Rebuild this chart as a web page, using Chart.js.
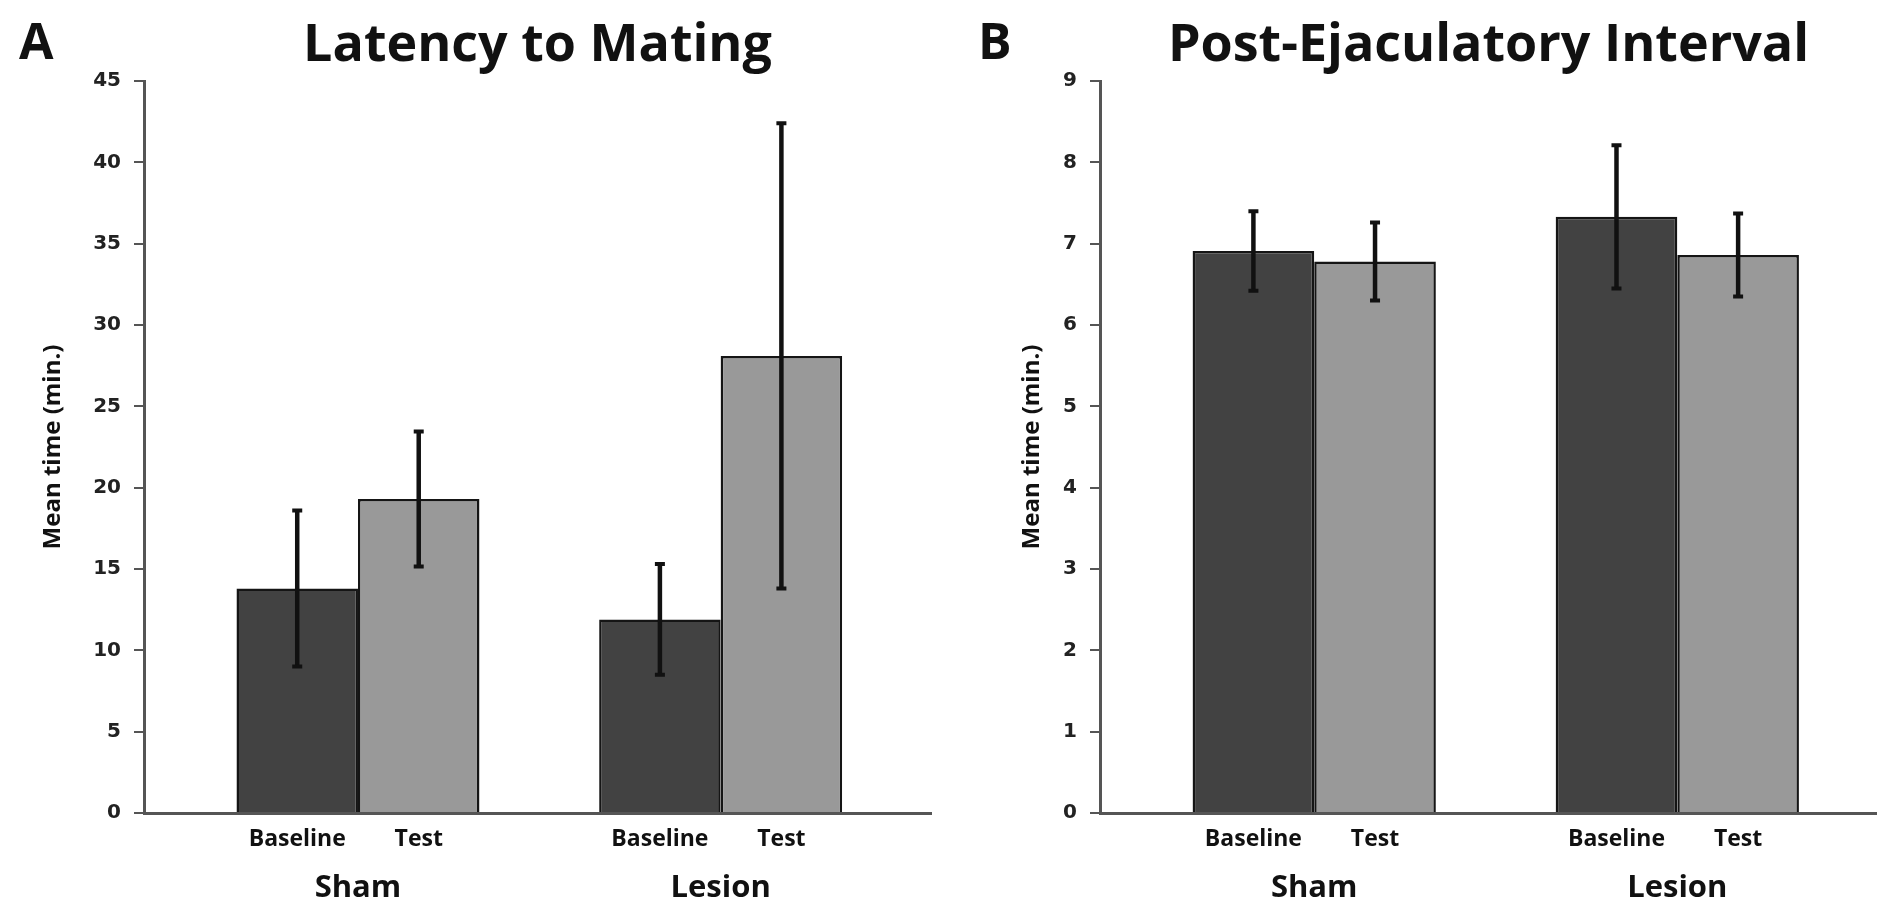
<!DOCTYPE html>
<html>
<head>
<meta charset="utf-8">
<script src="https://cdn.jsdelivr.net/npm/chart.js@4.4.1/dist/chart.umd.min.js"></script>
<style>
  html, body { margin: 0; padding: 0; background: #ffffff; }
  #wrap { position: relative; width: 1877px; height: 909px; overflow: hidden; background: #fff; }
  .panel { position: absolute; top: 0; }
  .letter { position: absolute; font-family: "Open Sans", sans-serif; font-weight: 700; font-size: 50px; line-height: 1; color: #111; }
</style>
</head>
<body>
<div id="wrap">
  <canvas id="chartA" class="panel" width="950" height="909" style="left:0px"></canvas>
  <canvas id="chartB" class="panel" width="927" height="909" style="left:950px"></canvas>
  <div class="letter" style="left:19px; top:15px;">A</div>
  <div class="letter" style="left:978px; top:15px;">B</div>
</div>
<script>
// ---------- data ----------
const GROUPS = ['Sham', 'Lesion'];
const SERIES = ['Baseline', 'Test'];

const latencyBaseline    = [13.8, 11.9];
const latencyBaselineErr = [4.8, 3.4];
const latencyTest        = [19.3, 28.1];
const latencyTestErr     = [4.15, 14.3];
const latencyYMax = 45;
const latencyYStep = 5;

const peiBaseline    = [6.91, 7.33];
const peiBaselineErr = [0.49, 0.88];
const peiTest        = [6.78, 6.86];
const peiTestErr     = [0.48, 0.51];
const peiYMax = 9;
const peiYStep = 1;

const TITLE_A = 'Latency to Mating';
const TITLE_B = 'Post-Ejaculatory Interval';
const Y_TITLE = 'Mean time (min.)';

// ---------- style ----------
const COLORS = ['#424242', '#999999'];
const CAT_PCT = 0.67;
const FONT_MAIN = '"Open Sans", sans-serif';
const FONT_TICK = '"DejaVu Sans", sans-serif';

Chart.defaults.font.family = FONT_MAIN;
Chart.defaults.color = '#111';

const errorBars = {
  id: 'errorBars',
  afterDatasetsDraw(chart) {
    const ctx = chart.ctx;
    const yScale = chart.scales.y;
    ctx.save();
    ctx.strokeStyle = '#111';
    ctx.lineCap = 'butt';
    chart.data.datasets.forEach((ds, i) => {
      const meta = chart.getDatasetMeta(i);
      meta.data.forEach((el, j) => {
        const v = ds.data[j].y;
        const e = ds.errors[j];
        const x = el.x;
        const yHi = yScale.getPixelForValue(v + e);
        const yLo = yScale.getPixelForValue(v - e);
        ctx.lineWidth = 4.5;
        ctx.beginPath();
        ctx.moveTo(x, yHi); ctx.lineTo(x, yLo);
        ctx.stroke();
        ctx.lineWidth = 4;
        ctx.beginPath();
        ctx.moveTo(x - 5, yHi); ctx.lineTo(x + 5, yHi);
        ctx.moveTo(x - 5, yLo); ctx.lineTo(x + 5, yLo);
        ctx.stroke();
      });
    });
    ctx.restore();
  }
};

function makeChart(canvasId, cfg) {
  const datasets = SERIES.map((name, s) => ({
    label: name,
    data: cfg.values[s].map((v, g) => ({ x: g + 1, y: v })),
    errors: cfg.errors[s],
    backgroundColor: COLORS[s],
    borderColor: '#151515',
    borderWidth: 2.5,
    borderSkipped: 'bottom',
    categoryPercentage: CAT_PCT,
    barPercentage: 1.0
  }));

  const subTickValues = [];
  GROUPS.forEach((g, gi) => {
    SERIES.forEach((s, si) => {
      subTickValues.push(gi + 1 + (si - (SERIES.length - 1) / 2) * CAT_PCT / SERIES.length);
    });
  });

  return new Chart(document.getElementById(canvasId), {
    type: 'bar',
    data: { datasets },
    plugins: [errorBars],
    options: {
      responsive: false,
      animation: false,
      devicePixelRatio: 1,
      layout: { padding: { left: 0, right: cfg.padRight, top: 0, bottom: 0 } },
      plugins: {
        legend: { display: false },
        tooltip: { enabled: false },
        title: {
          display: true,
          text: cfg.title,
          fullSize: false,
          color: '#111',
          font: { family: FONT_MAIN, size: 52, weight: '700', lineHeight: 1.2 },
          padding: { top: 15, bottom: 3.6 }
        }
      },
      scales: {
        x: {
          type: 'linear',
          position: 'bottom',
          weight: 1,
          min: 0.41,
          max: cfg.xMax,
          offset: false,
          grid: { display: false, drawTicks: false },
          border: { display: false },
          afterBuildTicks: (scale) => { scale.ticks = GROUPS.map((g, i) => ({ value: i + 1 })); },
          afterFit: (scale) => { scale.height = 46; },
          ticks: {
            autoSkip: false, maxRotation: 0, minRotation: 0,
            padding: 7,
            color: '#111',
            font: { family: FONT_MAIN, size: 31, weight: '700' },
            callback: (value, index) => GROUPS[index]
          }
        },
        xSub: {
          type: 'linear',
          axis: 'x',
          position: 'bottom',
          weight: 0,
          min: 0.41,
          max: cfg.xMax,
          offset: false,
          grid: { display: false, drawTicks: false },
          border: { display: true, color: '#555', width: 3 },
          afterBuildTicks: (scale) => { scale.ticks = subTickValues.map(v => ({ value: v })); },
          afterFit: (scale) => { scale.height = 50; },
          ticks: {
            autoSkip: false, maxRotation: 0, minRotation: 0,
            padding: 13,
            color: '#111',
            font: { family: FONT_MAIN, size: 23, weight: '700' },
            callback: (value, index) => SERIES[index % SERIES.length]
          }
        },
        y: {
          type: 'linear',
          position: 'left',
          min: 0,
          max: cfg.yMax,
          beginAtZero: true,
          afterFit: (scale) => { scale.width = cfg.yWidth; },
          grid: { display: true, drawOnChartArea: false, drawTicks: true, tickLength: 10, color: '#555', lineWidth: 2 },
          border: { display: true, color: '#555', width: 3 },
          ticks: {
            stepSize: cfg.yStep,
            padding: 13,
            color: '#222',
            font: { family: FONT_TICK, size: 20, weight: 'bold' }
          },
          title: {
            display: true,
            text: Y_TITLE,
            color: '#111',
            font: { family: FONT_MAIN, size: 24, weight: '700', lineHeight: 1.2 },
            padding: { top: cfg.yTitlePad, bottom: 0 }
          }
        }
      }
    }
  });
}

makeChart('chartA', {
  title: TITLE_A,
  values: [latencyBaseline, latencyTest],
  errors: [latencyBaselineErr, latencyTestErr],
  yMax: latencyYMax, yStep: latencyYStep,
  xMax: 2.58, padRight: 19, yWidth: 144, yTitlePad: 39
});

makeChart('chartB', {
  title: TITLE_B,
  values: [peiBaseline, peiTest],
  errors: [peiBaselineErr, peiTestErr],
  yMax: peiYMax, yStep: peiYStep,
  xMax: 2.55, padRight: 0, yWidth: 150, yTitlePad: 68
});
</script>
</body>
</html>
